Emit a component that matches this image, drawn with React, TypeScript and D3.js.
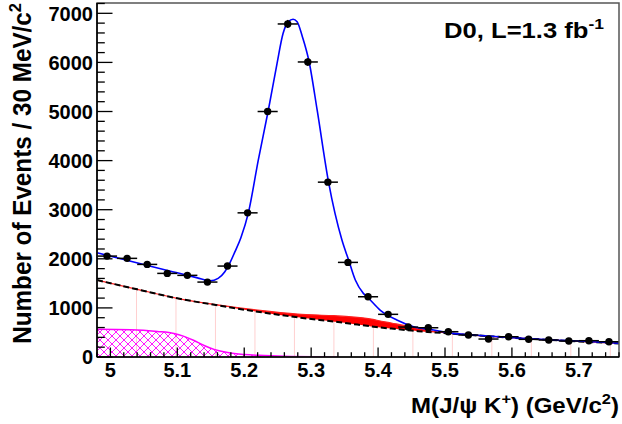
import React, { useLayoutEffect, useRef, useState } from 'react';
import * as d3 from 'd3';

// ---- data ----
const massBins = [4.995, 5.025, 5.055, 5.085, 5.115, 5.145, 5.175, 5.205, 5.235, 5.265, 5.295, 5.325, 5.355,
  5.385, 5.415, 5.445, 5.475, 5.505, 5.535, 5.565, 5.595, 5.625, 5.655, 5.685, 5.715, 5.745];
const counts = [2055, 2009, 1886, 1703, 1663, 1526, 1852, 2936, 5000, 6783, 6009, 3561, 1927,
  1227, 869, 610, 596, 515, 448, 366, 413, 360, 346, 326, 332, 311];
const binHalfWidth = 0.015;

// total fit (blue)
const fitX = [4.98, 5.02, 5.06, 5.10, 5.13, 5.149, 5.161, 5.171, 5.178, 5.186, 5.195, 5.206, 5.221, 5.236, 5.249,
  5.258, 5.266, 5.273, 5.279, 5.287, 5.297, 5.309, 5.326, 5.346, 5.356, 5.366, 5.378, 5.385, 5.403, 5.428, 5.453,
  5.483, 5.512, 5.542, 5.602, 5.662, 5.722, 5.76];
const fitY = [2122, 1986, 1850, 1714, 1612, 1550, 1601, 1736, 1900, 2140, 2430, 2924, 4009, 5026, 5977,
  6587, 6830, 6880, 6830, 6518, 6009, 5026, 3561, 2381, 1974, 1567, 1296, 1207, 956, 753, 617,
  549, 482, 448, 393, 346, 311, 279];

// combinatorial background (black dashed)
const bgX = [4.98, 5.04, 5.10, 5.16, 5.22, 5.28, 5.34, 5.40, 5.46, 5.52, 5.58, 5.64, 5.70, 5.76];
const bgY = [1567, 1378, 1195, 1052, 922, 808, 712, 605, 525, 465, 410, 360, 318, 276];

// J/psi pi component (red band, stacked on background)
const redX = [4.98, 5.10, 5.16, 5.22, 5.28, 5.33, 5.36, 5.39, 5.42, 5.45, 5.48, 5.51, 5.54, 5.76];
const redY = [0, 0, 10, 33, 67, 116, 142, 150, 114, 75, 25, 5, 0, 0];

// partially reconstructed component (magenta hatched)
const magX = [4.98, 5.03, 5.07, 5.095, 5.11, 5.125, 5.14, 5.155, 5.175, 5.20, 5.23, 5.27, 5.31, 5.34];
const magY = [564, 555, 520, 480, 420, 335, 235, 155, 90, 50, 30, 12, 4, 0];

const xTicks = [5.0, 5.1, 5.2, 5.3, 5.4, 5.5, 5.6, 5.7];
const xTickLabels = ['5', '5.1', '5.2', '5.3', '5.4', '5.5', '5.6', '5.7'];
const yTicks = [0, 1000, 2000, 3000, 4000, 5000, 6000, 7000];
const yTickLabels = ['0', '1000', '2000', '3000', '4000', '5000', '6000', '7000'];

const FONT = "'Liberation Sans', Arial, Helvetica, sans-serif";

function FitText({ x, y, rotate = 0, width, anchor = 'start', fontSize, children }: any) {
  const ref = useRef<SVGTextElement>(null);
  const [s, setS] = useState(1);
  useLayoutEffect(() => {
    if (ref.current) {
      const w = ref.current.getBBox().width;
      if (w > 0) setS(width / w);
    }
  }, [width]);
  return (
    <g transform={`translate(${x},${y}) rotate(${rotate}) scale(${s},1)`}>
      <text ref={ref} textAnchor={anchor} fontSize={fontSize} fontWeight="bold" fontFamily={FONT} fill="#000">
        {children}
      </text>
    </g>
  );
}

export default function App() {
  const L = 97, R = 619, T = 3, B = 357;
  const x = d3.scaleLinear().domain([4.98, 5.76]).range([L, R]);
  const y = d3.scaleLinear().domain([0, 7210]).range([B, T]);

  const bgAt = d3.scaleLinear().domain(bgX).range(bgY);
  const redAt = d3.scaleLinear().domain(redX).range(redY).clamp(true);

  const grid = Array.from(new Set([...bgX, ...redX])).sort((a, b) => a - b);
  const bandData = grid.map((g) => [g, bgAt(g), bgAt(g) + redAt(g)] as [number, number, number]);

  const line = d3.line<[number, number]>().x((d) => x(d[0])).y((d) => y(d[1])).curve(d3.curveMonotoneX);
  const area = d3.area<[number, number, number]>()
    .x((d) => x(d[0])).y0((d) => y(d[1])).y1((d) => y(d[2])).curve(d3.curveMonotoneX);

  const fitPath = line(fitX.map((v, i) => [v, fitY[i]]))!;
  const bgPath = line(bandData.map((d) => [d[0], d[1]]))!;
  const redArea = area(bandData)!;
  const redTop = line(bandData.map((d) => [d[0], d[2]]))!;
  const magArea = area(magX.map((v, i) => [v, 0, magY[i]]))!;
  const magTop = line(magX.map((v, i) => [v, magY[i]]))!;

  // faint vertical drop lines of the misID component fill
  const dropStart = 5.039, dropStep = 0.059;
  const dropLines = d3.range(0, 13).map((k) => dropStart + dropStep * k).filter((v) => v < 5.76);

  const xMinor = d3.range(249, 289).map((i) => i * 0.02);
  const yMinor = d3.range(0, 7201, 200);

  return (
    <svg width={622} height={424} style={{ position: 'absolute', left: 0, top: 0, background: '#fff' }}>
      <defs>
        <pattern id="xhatch" width="8" height="8" patternUnits="userSpaceOnUse">
          <path d="M0,0 L8,8 M8,0 L0,8 M-1,7 L1,9 M7,-1 L9,1 M-1,1 L1,-1 M7,9 L9,7" stroke="#ff00ff" strokeWidth="0.9" />
        </pattern>
        <clipPath id="plotclip">
          <rect x={L} y={T} width={R - L} height={B - T} />
        </clipPath>
      </defs>
      <rect x={0} y={0} width={622} height={424} fill="#fff" />

      <g clipPath="url(#plotclip)">
        {dropLines.map((v, i) => (
          <line key={i} x1={x(v)} x2={x(v)} y1={y(0)} y2={y(bgAt(v) + redAt(v))} stroke="#ffd0d0" strokeWidth={1} />
        ))}
        <path d={magArea} fill="url(#xhatch)" />
        <path d={magTop} fill="none" stroke="#ff00ff" strokeWidth={1.5} />
        <path d={redArea} fill="#ff0000" stroke="none" />
        <path d={redTop} fill="none" stroke="#ff2020" strokeWidth={1.2} />
        <path d={bgPath} fill="none" stroke="#000" strokeWidth={2} strokeDasharray="6 3" />
        <path d={fitPath} fill="none" stroke="#0000ff" strokeWidth={1.6} />
        {massBins.map((m, i) => {
          const n = counts[i];
          const e = Math.sqrt(n);
          return (
            <g key={i}>
              <line x1={x(m - binHalfWidth)} x2={x(m + binHalfWidth)} y1={y(n)} y2={y(n)} stroke="#000" strokeWidth={1.5} />
              <line x1={x(m)} x2={x(m)} y1={y(n - e)} y2={y(n + e)} stroke="#000" strokeWidth={1.5} />
              <circle cx={x(m)} cy={y(n)} r={3.7} fill="#000" />
            </g>
          );
        })}
      </g>

      {/* frame */}
      <rect x={L} y={T} width={R - L} height={B - T} fill="none" stroke="#555" strokeWidth={1.5} />
      <line x1={L} x2={L} y1={T} y2={B} stroke="#000" strokeWidth={1.6} />
      <line x1={L} x2={R} y1={B} y2={B} stroke="#000" strokeWidth={1.6} />

      {/* y ticks */}
      {yMinor.map((v, i) => (
        <line key={'ym' + i} x1={L} x2={L + (v % 1000 === 0 ? 15.5 : 7.8)} y1={y(v)} y2={y(v)} stroke="#000" strokeWidth={1.3} />
      ))}
      {yTicks.map((v, i) => (
        <text key={'yl' + i} x={93} y={y(v)} dy="0.36em" textAnchor="end" fontSize={20} fontWeight="bold" fontFamily={FONT}>
          {yTickLabels[i]}
        </text>
      ))}

      {/* x ticks */}
      {xMinor.map((v, i) => {
        const major = Math.abs(v * 10 - Math.round(v * 10)) < 1e-6;
        return (
          <line key={'xm' + i} x1={x(v)} x2={x(v)} y1={B} y2={B - (major ? 9.5 : 4.8)} stroke="#000" strokeWidth={1.3} />
        );
      })}
      {xTicks.map((v, i) => (
        <text key={'xl' + i} x={x(v)} y={377} textAnchor="middle" fontSize={20} fontWeight="bold" fontFamily={FONT}>
          {xTickLabels[i]}
        </text>
      ))}

      {/* axis titles */}
      <FitText x={619} y={413} width={208} anchor="end" fontSize={22}>
        M(J/ψ K<tspan fontSize={15} dy={-9}>+</tspan><tspan dy={9}>) (GeV/c</tspan><tspan fontSize={15} dy={-9}>2</tspan><tspan dy={9}>)</tspan>
      </FitText>
      <FitText x={31} y={3} rotate={-90} width={341} anchor="end" fontSize={25}>
        Number of Events / 30 MeV/c<tspan fontSize={17} dy={-10}>2</tspan>
      </FitText>

      {/* label */}
      <FitText x={604} y={38} width={160} anchor="end" fontSize={22}>
        D0, L=1.3 fb<tspan fontSize={15} dy={-9}>-1</tspan>
      </FitText>
    </svg>
  );
}
